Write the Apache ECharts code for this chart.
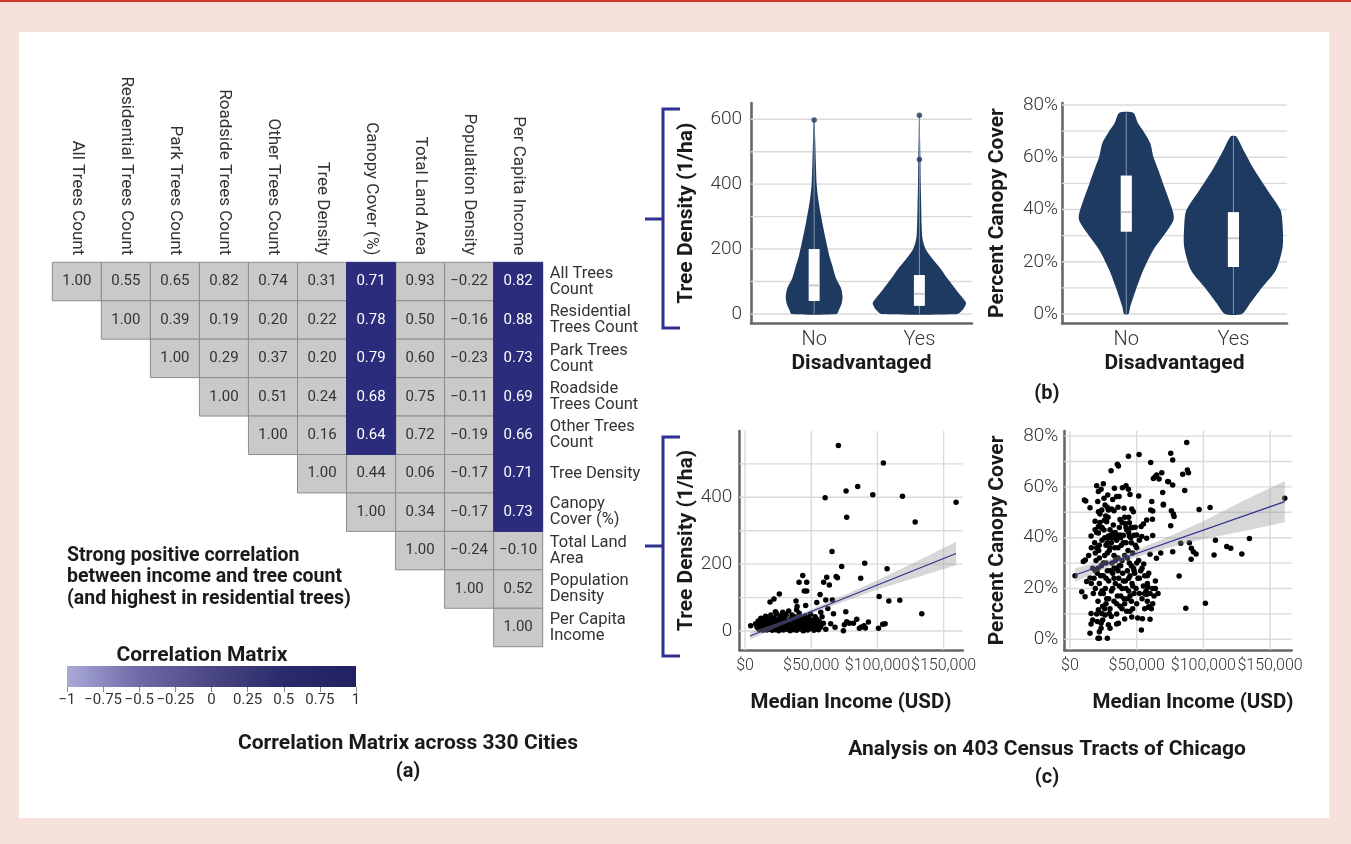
<!DOCTYPE html>
<html>
<head>
<meta charset="utf-8">
<title>Urban trees, canopy and income</title>
<script src="https://cdn.jsdelivr.net/npm/echarts@6/dist/echarts.min.js"></script>
<style>
  html, body { margin: 0; padding: 0; width: 1351px; height: 844px; overflow: hidden; background: #f6e2da; }
  #topline { position: absolute; left: 0; top: 0; width: 1351px; height: 2px; background: #d0342c; }
  #panel { position: absolute; left: 19px; top: 32px; width: 1310px; height: 786px; background: #ffffff; }
  #chart { position: absolute; left: 0; top: 0; width: 1351px; height: 844px; }
</style>
</head>
<body>
<div id="topline"></div>
<div id="panel"></div>
<div id="chart"></div>
<script>
// ---------------- (a) correlation matrix across cities ----------------
const corrColumns = ['All Trees Count', 'Residential Trees Count', 'Park Trees Count', 'Roadside Trees Count',
  'Other Trees Count', 'Tree Density', 'Canopy Cover (%)', 'Total Land Area', 'Population Density', 'Per Capita Income'];
const corrRowLabels = ['All Trees\nCount', 'Residential\nTrees Count', 'Park Trees\nCount', 'Roadside\nTrees Count',
  'Other Trees\nCount', 'Tree Density', 'Canopy\nCover (%)', 'Total Land\nArea', 'Population\nDensity', 'Per Capita\nIncome'];
// upper triangle, each row starts on the diagonal
const corrUpper = [
  [1.00, 0.55, 0.65, 0.82, 0.74, 0.31, 0.71, 0.93, -0.22, 0.82],
  [1.00, 0.39, 0.19, 0.20, 0.22, 0.78, 0.50, -0.16, 0.88],
  [1.00, 0.29, 0.37, 0.20, 0.79, 0.60, -0.23, 0.73],
  [1.00, 0.51, 0.24, 0.68, 0.75, -0.11, 0.69],
  [1.00, 0.16, 0.64, 0.72, -0.19, 0.66],
  [1.00, 0.44, 0.06, -0.17, 0.71],
  [1.00, 0.34, -0.17, 0.73],
  [1.00, -0.24, -0.10],
  [1.00, 0.52],
  [1.00]
];
// [row, column] of the cells filled in the strong colour
const highlightedCells = [[0, 6], [1, 6], [2, 6], [3, 6], [4, 6],
  [0, 9], [1, 9], [2, 9], [3, 9], [4, 9], [5, 9], [6, 9]];
const colorbarStops = [[0, '#a9a9d9'], [0.25, '#6e6aa6'], [0.5, '#4a4882'], [0.75, '#2a2a6c'], [1, '#222262']];

// ---------------- (b) disadvantaged vs not ----------------
const disadvantagedCats = ['No', 'Yes'];
// violin outlines: [value, half width in category units]
const densityNoProfile = [[0, 0.214], [12, 0.235], [33, 0.262], [53, 0.27], [80, 0.255], [112, 0.206], [150, 0.172],
  [177, 0.146], [230, 0.11], [279, 0.079], [330, 0.05], [361, 0.036], [400, 0.024], [472, 0.016], [540, 0.01], [598, 0.004]];
const densityYesProfile = [[0, 0.36], [12, 0.41], [33, 0.444], [50, 0.41], [74, 0.35], [100, 0.29], [115, 0.254], [140, 0.2],
  [156, 0.159], [180, 0.1], [197, 0.064], [215, 0.042], [238, 0.027], [280, 0.021], [341, 0.017], [400, 0.013], [485, 0.01],
  [550, 0.006], [612, 0.003]];
const canopyNoProfile = [[0, 0.02], [2.8, 0.037], [9.2, 0.089], [16.8, 0.159], [24.5, 0.252], [30.9, 0.364], [36.6, 0.444],
  [43.6, 0.40], [50, 0.343], [55, 0.30], [60.3, 0.252], [65.4, 0.224], [70, 0.16], [73, 0.109], [77, 0.065]];
const canopyYesProfile = [[0, 0.078], [4.1, 0.156], [9.2, 0.249], [16.8, 0.397], [25.8, 0.46], [34.7, 0.458], [39.8, 0.439],
  [47.4, 0.318], [55.1, 0.196], [62.8, 0.093], [68, 0.025]];
// [category position, q1, median, q3, min, max]
const densityBoxes = [[1, 40, 88, 200, 0, 598], [2, 25, 62, 120, 0, 612]];
const canopyBoxes = [[1, 31.5, 39, 53, 0, 77], [2, 18, 29, 39, 0, 68]];
const densityOutliers = [[1, 598], [2, 612], [2, 476]];
const densityTicks = [0, 200, 400, 600];
const densityGridValues = [0, 100, 200, 300, 400, 500, 600];
const canopyTicks = [0, 20, 40, 60, 80];
const canopyGridValues = [0, 10, 20, 30, 40, 50, 60, 70, 80];

// ---------------- (c) census tracts of Chicago ----------------
const incomeTicksK = [0, 50, 100, 150];
const scatterDensityTicks = [0, 200, 400];
const scatterDensityGridValues = [0, 100, 200, 300, 400, 500];
// [median income in thousand USD, tree density per ha]
const densityPoints = [
  [70.5, 555], [104.5, 503], [76.3, 419], [85.1, 432], [96.5, 408], [60.5, 399], [118.9, 403], [159.4, 385], [76.8, 340],
  [128.5, 326], [65.7, 238], [73.0, 193], [90.4, 203], [107.3, 186], [87.4, 158], [43.6, 166], [61.7, 161], [68.8, 163],
  [69.8, 159], [59.4, 146], [63.7, 138], [40.8, 146], [46.6, 146], [44.8, 120], [46.6, 120], [25.9, 111], [21.9, 96],
  [18.9, 87], [38.5, 90], [45.8, 76], [54.2, 85], [56.7, 109], [61.0, 93], [66.0, 93], [101.3, 103], [108.6, 90],
  [116.9, 92], [133.5, 52], [76.1, 58], [39.3, 73],
  [74.3, 1], [75, 19], [76.8, 28], [78.8, 23], [81.9, 23], [84.4, 35], [86.4, 8], [87.9, 12], [89.9, 16], [90.9, 9],
  [93.2, 27], [100.8, 8], [104, 20], [105.8, 22], [68, 11], [64.7, 22], [59.2, 23], [58.2, 43], [66.8, 52], [62.5, 67],
  [57.2, 56], [52.9, 43], [51.4, 28], [49.1, 8], [54.2, 5], [61, 5],
  [4.3, 16], [8, 22], [9, 12], [10, 30], [10.5, 5], [11, 18], [12, 38], [12.5, 10], [13, 26], [13.5, 2], [14, 15],
  [14.5, 32], [15, 8], [15.5, 44], [16, 20], [16.5, 3], [17, 28], [17.5, 12], [18, 36], [18.5, 6], [19, 22], [19.5, 48],
  [20, 14], [20.5, 2], [21, 30], [21.5, 9], [22, 40], [22.5, 18], [23, 4], [23.5, 26], [24, 52], [24.5, 12], [25, 34],
  [25.5, 1], [26, 20], [26.5, 44], [27, 8], [27.5, 28], [28, 15], [28.5, 56], [29, 3], [29.5, 38], [30, 22], [30.5, 10],
  [31, 47], [31.5, 30], [32, 5], [32.5, 17], [33, 60], [33.5, 25], [34, 1], [34.5, 36], [35, 12], [35.5, 48], [36, 20],
  [36.5, 4], [37, 31], [37.5, 14], [38, 42], [38.5, 24], [39, 2], [39.5, 9], [40, 35], [40.5, 18], [41, 53], [41.5, 27],
  [42, 6], [42.5, 40], [43, 13], [43.5, 22], [44, 1], [44.5, 33], [45, 16], [45.5, 45], [46, 7], [46.5, 28], [47, 19],
  [47.5, 3], [48, 38], [48.5, 12], [49, 24], [49.5, 50], [50, 9], [50.5, 32], [51, 17], [52, 2], [52.5, 26], [53, 12],
  [54, 36], [55, 18], [55.5, 4], [56, 29], [57, 11], [58, 20], [30, 32], [26, 14], [22, 26], [18, 9], [34, 20], [38, 7],
  [42, 30], [46, 22], [36, 40], [28, 42], [24, 6], [20, 38], [32, 12], [40, 26], [44, 10], [48, 30], [36, 8], [30, 50],
  [27, 35], [23, 58], [39, 63], [42, 17], [45, 4], [33, 16], [25, 23], [29, 11]
];
const densityFit = [[3.8, -15], [159.4, 232]];
// [income K, lower, upper] of the confidence band
const densityBand = [[3.8, -26, -4], [25, 12.6, 24.6], [45, 45, 56], [70, 81, 99], [100, 124, 152], [130, 161, 209], [159.4, 197, 267]];

// [median income in thousand USD, canopy cover %]
const canopyPoints = [
  [87.5, 77.5], [43.8, 72.1], [51.8, 72.7], [75.5, 73.2], [77, 70.6], [60.5, 69.6], [35.5, 68.9], [36.3, 68.2], [30.8, 66.4],
  [68.8, 65.6], [65, 64.7], [62.5, 63.3], [66.8, 63.1], [88, 66.6], [88.8, 65.6], [84.5, 65], [73.8, 62], [77, 60.7],
  [86, 58.6], [69.5, 57.8], [51.5, 56.4], [61.3, 54.2], [70, 53.2], [76, 50.6], [77.5, 49.3], [78, 48.3], [96.8, 51.1],
  [105, 51.9], [75.5, 44.7], [83, 37.8], [89.5, 38], [91, 35.8], [92.5, 34.5], [94.5, 33.6], [109, 39], [117.5, 36.5],
  [120.5, 35.8], [108, 33.2], [128.8, 33.6], [134.5, 39.7], [90.8, 31.5], [161, 55.5], [81.8, 24.9], [86.8, 12.2],
  [101.5, 14.2], [77, 34.5], [68, 34], [55, 45.4], [57.5, 47], [61.8, 47.3], [62, 40.9], [55.3, 29.6], [64.8, 31.9],
  [63.8, 64], [73.3, 62.1], [60.5, 50.9], [62, 50.5], [70, 52.9], [60, 33.5], [58, 25], [56, 18], [62, 14], [64, 20],
  [66, 18], [58.5, 20.5], [59, 12.8], [57.3, 17.6], [60, 7.9], [53.5, 3.7], [50.8, 8.4], [54.3, 8.1], [46.3, 8.8], [58.8, 12.6],
  [20, 60.4], [25, 61.2], [21.3, 58.2], [23.3, 59.1], [28.3, 56.8], [33.3, 59.5], [39.3, 59.7], [42, 60.4], [43.8, 59.1],
  [35, 56.2], [36.8, 56.2], [45, 57], [10.8, 54.8], [11.8, 54.4], [15, 51.8], [20.8, 54.2], [25.5, 55.5], [26.3, 52.9],
  [23.8, 50.9], [21.3, 50.2], [22.5, 49.3], [28.8, 50.9], [31.3, 51.3], [33, 50.6], [26.8, 48.5], [25.8, 46.9], [27.5, 46.3],
  [40.5, 51.6], [46.3, 51.3], [47.5, 50.2], [37.5, 47.2], [41.3, 45.6], [44.5, 45.9], [45.8, 43.9], [48.8, 44.1], [53.3, 44.4],
  [18.8, 46.5], [21.3, 44.4], [23.8, 43.7], [18.8, 43.1], [21.3, 41.8], [30, 43.1], [32.5, 41.8], [28.8, 40.7], [35, 40.7],
  [37.5, 41.1], [42.5, 43.1], [44.5, 40.7], [50, 41.1], [53.8, 40.5], [57.5, 39.8], [15.8, 40.7],
  [3.75, 25], [10, 30.6], [11.5, 31.2], [8.8, 18.7], [11.3, 16.8], [15, 24.1], [12.5, 22.8], [15.8, 10.2], [17, 7.6],
  [15.8, 6], [15, 2.4], [21, 0.4], [22, 0.4], [28, 0.4], [22, 3], [23.3, 4.4], [30, 4.4], [35, 6], [36.3, 6.3], [21.3, 11.6],
  [23.8, 10.2], [26.3, 9.6], [29.5, 10.2], [23.3, 6.3], [24.5, 7.6], [20.5, 7], [28.8, 5.7],
  [14, 33], [16, 36], [17, 28], [18, 24], [18.5, 38], [19, 20], [19.5, 31], [20, 42], [20.5, 26], [21, 15], [21.5, 35],
  [22, 22], [22.5, 46], [23, 18], [23.5, 29], [24, 39], [24.5, 13], [25, 25], [25.5, 43], [26, 33], [26.5, 20], [27, 37],
  [27.5, 16], [28, 27], [28.5, 48], [29, 23], [29.5, 35], [30, 12], [30.5, 41], [31, 19], [31.5, 30], [32, 26], [32.5, 45],
  [33, 15], [33.5, 36], [34, 22], [34.5, 28], [35, 39], [35.5, 17], [36, 32], [36.5, 24], [37, 44], [37.5, 13], [38, 29],
  [38.5, 37], [39, 20], [39.5, 26], [40, 41], [40.5, 16], [41, 33], [41.5, 23], [42, 38], [42.5, 11], [43, 27], [43.5, 35],
  [44, 19], [44.5, 30], [45, 25], [45.5, 40], [46, 15], [46.5, 22], [47, 34], [47.5, 28], [48, 18], [48.5, 26], [49, 37],
  [49.5, 20], [50, 14], [51, 24], [51.5, 31], [52, 18], [53, 27], [54, 16], [55, 21], [56, 12], [57, 19], [58, 15], [59, 26],
  [60, 18], [61, 12], [62, 20], [63, 17], [64, 23],
  [16, 22], [17.5, 18], [19, 34], [20, 10], [21, 28], [22, 37], [23, 25], [24, 19], [25, 30], [26, 12], [27, 24], [28, 34],
  [29, 16], [30, 27], [31, 38], [32, 20], [33, 24], [34, 31], [35, 14], [36, 27], [37, 21], [38, 17], [39, 31], [40, 23],
  [41, 14], [42, 20], [43, 32], [44, 24], [45, 17], [46, 29], [47, 21], [48, 27], [50, 30], [52, 24], [54, 28], [56, 25],
  [58, 22], [24, 44], [26, 40], [28, 38], [30, 36], [32, 40], [34, 42], [36, 36], [38, 40], [40, 38], [42, 44], [44, 42],
  [46, 38], [48, 41], [50, 36], [52, 39], [20, 36], [22, 32], [19, 27], [27, 30], [33, 33], [37, 29], [43, 16], [47, 12],
  [31, 9], [35, 10], [39, 12], [41, 8], [27, 14], [25, 18], [45, 11], [33, 28], [29, 40], [39, 46], [41, 48], [36, 52],
  [32, 55], [28, 52], [44, 48], [47, 44]
];
const canopyFit = [[3.75, 25.3], [161, 54.2]];
const canopyBand = [[3.75, 22.6, 28.0], [25, 27.6, 30.8], [45, 31.6, 34.2], [70, 35.5, 39.5], [100, 39.5, 46.5], [130, 42.5, 54.5], [161, 46.1, 62.3]];

// ---------------- styling ----------------
const FONT = 'Roboto';
const INK = '#1a1a1a';
const TICK_INK = '#333333';
const GRID_LINE = '#dadada';
const AXIS_LINE = '#676767';
const CELL_BLUE = '#2b2c7c';
const CELL_GREY = '#c9c9cb';
const VIOLIN = '#1e3a60';
const BRACKET = '#2e3192';
const FIT = '#2e3192';
const DOT = '#000000';

function signed(v) {
  const r = Math.round(v * 100) / 100;
  return (r < 0 ? '\u2212' : '') + String(Math.abs(r));
}
function fixed2(v) {
  return (v < 0 ? '\u2212' : '') + Math.abs(v).toFixed(2);
}

// heatmap cells from the upper triangle
const corrCells = [];
corrUpper.forEach((row, r) => {
  row.forEach((v, k) => {
    const c = r + k;
    const hl = highlightedCells.some(h => h[0] === r && h[1] === c) ? 1 : 0;
    corrCells.push([c, r, v, hl]);
  });
});
corrCells.sort((a, b) => a[3] - b[3]);

function gridLineSeries(gi, hValues, vValues) {
  const data = hValues.map(v => [0, v, 0]).concat(vValues.map(v => [v, 0, 1]));
  return {
    type: 'custom', xAxisIndex: gi, yAxisIndex: gi, z: 1, silent: true, clip: false,
    data: data,
    renderItem(params, api) {
      const cs = params.coordSys;
      if (api.value(2) === 0) {
        const y = api.coord([0, api.value(1)])[1];
        return { type: 'line', shape: { x1: cs.x, y1: y, x2: cs.x + cs.width, y2: y }, style: { stroke: GRID_LINE, lineWidth: 1.4 } };
      }
      const x = api.coord([api.value(0), 0])[0];
      return { type: 'line', shape: { x1: x, y1: cs.y, x2: x, y2: cs.y + cs.height }, style: { stroke: GRID_LINE, lineWidth: 1.4 } };
    }
  };
}

function violinSeries(gi, profiles) {
  return {
    type: 'custom', xAxisIndex: gi, yAxisIndex: gi, z: 3, silent: true,
    data: profiles.map((p, i) => [i + 1, 0]),
    renderItem(params, api) {
      const prof = profiles[params.dataIndex];
      const x0 = api.value(0);
      const right = prof.map(p => api.coord([x0 + p[1], p[0]]));
      const left = prof.slice().reverse().map(p => api.coord([x0 - p[1], p[0]]));
      return { type: 'polygon', shape: { points: right.concat(left), smooth: 0.25 }, style: { fill: VIOLIN } };
    }
  };
}

function boxSeries(gi, boxes) {
  return {
    type: 'custom', xAxisIndex: gi, yAxisIndex: gi, z: 4, silent: true,
    data: boxes,
    renderItem(params, api) {
      const x = api.value(0), q1 = api.value(1), med = api.value(2), q3 = api.value(3), lo = api.value(4), hi = api.value(5);
      const halfW = 0.052;
      const pLo = api.coord([x, lo]), pHi = api.coord([x, hi]);
      const a = api.coord([x - halfW, q3]), b = api.coord([x + halfW, q1]);
      const m1 = api.coord([x - halfW, med]), m2 = api.coord([x + halfW, med]);
      return {
        type: 'group', children: [
          { type: 'line', shape: { x1: pLo[0], y1: pLo[1], x2: pHi[0], y2: pHi[1] }, style: { stroke: '#8596ae', lineWidth: 1 } },
          { type: 'rect', shape: { x: a[0], y: a[1], width: b[0] - a[0], height: b[1] - a[1] }, style: { fill: '#ffffff' } },
          { type: 'line', shape: { x1: m1[0], y1: m1[1], x2: m2[0], y2: m2[1] }, style: { stroke: '#c9c9c9', lineWidth: 2 } }
        ]
      };
    }
  };
}

function bandSeries(gi, band) {
  return {
    type: 'custom', xAxisIndex: gi, yAxisIndex: gi, z: 5, silent: true,
    data: [[band[0][0], band[0][1]]],
    renderItem(params, api) {
      const upper = band.map(b => api.coord([b[0], b[2]]));
      const lower = band.slice().reverse().map(b => api.coord([b[0], b[1]]));
      return { type: 'polygon', shape: { points: upper.concat(lower) }, style: { fill: 'rgba(150,150,150,0.38)' } };
    }
  };
}

const tickLabel = { fontFamily: FONT, fontSize: 19, fontWeight: 300, color: TICK_INK, hideOverlap: false };
const axisName = { fontFamily: FONT, fontSize: 21, fontWeight: 'bold', color: INK };
const plotAxisLine = { show: true, onZero: false, lineStyle: { color: AXIS_LINE, width: 2.6 } };
const moneyFmt = v => '$' + Math.round(v * 1000).toLocaleString('en-US');
const centered = { align: 'center', textAlign: 'center', verticalAlign: 'middle', textVerticalAlign: 'middle' };

const chart = echarts.init(document.getElementById('chart'), null, { renderer: 'canvas' });

const option = {
  animation: false,
  backgroundColor: 'transparent',
  textStyle: { fontFamily: FONT },
  grid: [
    { left: 52.3, top: 262.3, width: 490.4, height: 384.4, outerBoundsMode: 'none' },
    { left: 67, top: 666, width: 289, height: 21, outerBoundsMode: 'none' },
    { left: 751, top: 103, width: 221, height: 220.3, outerBoundsMode: 'none' },
    { left: 1062, top: 103, width: 225, height: 220.3, outerBoundsMode: 'none' },
    { left: 739.3, top: 431, width: 223.4, height: 219, outerBoundsMode: 'none' },
    { left: 1064.3, top: 431, width: 227.4, height: 219, outerBoundsMode: 'none' }
  ],
  xAxis: [
    {
      gridIndex: 0, type: 'category', data: corrColumns, position: 'top',
      axisLine: { show: false }, axisTick: { show: false }, splitLine: { show: false },
      axisLabel: { interval: 0, rotate: 90, margin: 7, fontSize: 17, color: TICK_INK, hideOverlap: false }
    },
    {
      gridIndex: 1, type: 'value', min: -1, max: 1, interval: 0.25,
      axisLine: { show: false }, splitLine: { show: false },
      axisTick: { show: true, length: 5, lineStyle: { color: '#8a8a8a' } },
      axisLabel: { formatter: signed, fontSize: 15, color: TICK_INK, margin: 6, hideOverlap: false }
    },
    {
      gridIndex: 2, type: 'value', min: 0.4, max: 2.5,
      axisLine: plotAxisLine, axisTick: { show: false }, splitLine: { show: false },
      axisLabel: Object.assign({}, tickLabel, { customValues: disadvantagedCats.map((c, i) => i + 1), formatter: v => disadvantagedCats[Math.round(v) - 1], fontSize: 20, margin: 7 }),
      name: 'Disadvantaged', nameLocation: 'middle', nameGap: 30, nameTextStyle: axisName
    },
    {
      gridIndex: 3, type: 'value', min: 0.4, max: 2.5,
      axisLine: plotAxisLine, axisTick: { show: false }, splitLine: { show: false },
      axisLabel: Object.assign({}, tickLabel, { customValues: disadvantagedCats.map((c, i) => i + 1), formatter: v => disadvantagedCats[Math.round(v) - 1], fontSize: 20, margin: 7 }),
      name: 'Disadvantaged', nameLocation: 'middle', nameGap: 30, nameTextStyle: axisName
    },
    {
      gridIndex: 4, type: 'value', min: -4.31, max: 164.4,
      axisLine: plotAxisLine, axisTick: { show: false }, splitLine: { show: false },
      axisLabel: Object.assign({}, tickLabel, { customValues: incomeTicksK, formatter: moneyFmt, fontSize: 16, margin: 8 }),
      name: 'Median Income (USD)', nameLocation: 'middle', nameGap: 42, nameTextStyle: Object.assign({}, axisName, { fontSize: 20.5 })
    },
    {
      gridIndex: 5, type: 'value', min: -4.27, max: 166.2,
      axisLine: plotAxisLine, axisTick: { show: false }, splitLine: { show: false },
      axisLabel: Object.assign({}, tickLabel, { customValues: incomeTicksK, formatter: moneyFmt, fontSize: 16, margin: 8 }),
      name: 'Median Income (USD)', nameLocation: 'middle', nameGap: 42, nameTextStyle: Object.assign({}, axisName, { fontSize: 20.5, padding: [0, 0, 0, 30] })
    }
  ],
  yAxis: [
    {
      gridIndex: 0, type: 'category', data: corrRowLabels, inverse: true, position: 'right',
      axisLine: { show: false }, axisTick: { show: false }, splitLine: { show: false },
      axisLabel: { interval: 0, margin: 7, fontSize: 16.5, lineHeight: 16, color: TICK_INK, align: 'left', hideOverlap: false }
    },
    { gridIndex: 1, type: 'value', min: 0, max: 1, show: false },
    {
      gridIndex: 2, type: 'value', min: -28.7, max: 650,
      axisLine: plotAxisLine, axisTick: { show: false }, splitLine: { show: false },
      axisLabel: Object.assign({}, tickLabel, { customValues: densityTicks, margin: 9 }),
      name: 'Tree Density (1/ha)', nameLocation: 'middle', nameRotate: 90, nameGap: 54, nameTextStyle: axisName
    },
    {
      gridIndex: 3, type: 'value', min: -3.56, max: 80.77,
      axisLine: plotAxisLine, axisTick: { show: false }, splitLine: { show: false },
      axisLabel: Object.assign({}, tickLabel, { customValues: canopyTicks, formatter: v => v + '%', margin: 4 }),
      name: 'Percent Canopy Cover', nameLocation: 'middle', nameRotate: 90, nameGap: 54, nameTextStyle: axisName
    },
    {
      gridIndex: 4, type: 'value', min: -56.8, max: 598.4,
      axisLine: plotAxisLine, axisTick: { show: false }, splitLine: { show: false },
      axisLabel: Object.assign({}, tickLabel, { customValues: scatterDensityTicks, margin: 7 }),
      name: 'Tree Density (1/ha)', nameLocation: 'middle', nameRotate: 90, nameGap: 42, nameTextStyle: axisName
    },
    {
      gridIndex: 5, type: 'value', min: -4.21, max: 82,
      axisLine: plotAxisLine, axisTick: { show: false }, splitLine: { show: false },
      axisLabel: Object.assign({}, tickLabel, { customValues: canopyTicks, formatter: v => v + '%', margin: 6 }),
      name: 'Percent Canopy Cover', nameLocation: 'middle', nameRotate: 90, nameGap: 56, nameTextStyle: axisName
    }
  ],
  series: [
    // correlation cells
    {
      type: 'custom', xAxisIndex: 0, yAxisIndex: 0, z: 2, silent: true,
      data: corrCells,
      renderItem(params, api) {
        const col = api.value(0), row = api.value(1), v = api.value(2), hl = api.value(3);
        const c = api.coord([col, row]);
        const s = api.size([1, 1]);
        return {
          type: 'group', children: [
            { type: 'rect', shape: { x: c[0] - s[0] / 2, y: c[1] - s[1] / 2, width: s[0], height: s[1] },
              style: { fill: hl ? CELL_BLUE : CELL_GREY, stroke: hl ? CELL_BLUE : '#8d8d8d', lineWidth: 1 } },
            { type: 'text', style: { x: c[0], y: c[1], text: fixed2(v), align: 'center', verticalAlign: 'middle',
              fill: hl ? '#ffffff' : '#333333', font: '15px ' + FONT } }
          ]
        };
      }
    },
    // colour bar
    {
      type: 'custom', xAxisIndex: 1, yAxisIndex: 1, z: 2, silent: true,
      data: [[-1, 0, 1, 1]],
      renderItem(params, api) {
        const p0 = api.coord([api.value(0), api.value(3)]);
        const p1 = api.coord([api.value(2), api.value(1)]);
        return {
          type: 'rect', shape: { x: p0[0], y: p0[1], width: p1[0] - p0[0], height: p1[1] - p0[1] },
          style: { fill: new echarts.graphic.LinearGradient(0, 0, 1, 0, colorbarStops.map(s => ({ offset: s[0], color: s[1] }))) }
        };
      }
    },
    // violins: tree density
    gridLineSeries(2, densityGridValues, []),
    violinSeries(2, [densityNoProfile, densityYesProfile]),
    boxSeries(2, densityBoxes),
    { type: 'scatter', xAxisIndex: 2, yAxisIndex: 2, z: 5, silent: true, symbolSize: 5.5, itemStyle: { color: VIOLIN }, data: densityOutliers },
    // violins: canopy
    gridLineSeries(3, canopyGridValues, []),
    violinSeries(3, [canopyNoProfile, canopyYesProfile]),
    boxSeries(3, canopyBoxes),
    // scatter: tree density vs income
    gridLineSeries(4, scatterDensityGridValues, incomeTicksK),
    { type: 'scatter', xAxisIndex: 4, yAxisIndex: 4, z: 4, silent: true, symbolSize: 5.5, itemStyle: { color: DOT, opacity: 1 }, data: densityPoints },
    bandSeries(4, densityBand),
    { type: 'line', xAxisIndex: 4, yAxisIndex: 4, z: 6, silent: true, symbol: 'none', lineStyle: { color: FIT, width: 1.2 }, data: densityFit },
    // scatter: canopy vs income
    gridLineSeries(5, canopyGridValues, incomeTicksK),
    { type: 'scatter', xAxisIndex: 5, yAxisIndex: 5, z: 4, silent: true, symbolSize: 5.5, itemStyle: { color: DOT, opacity: 1 }, data: canopyPoints },
    bandSeries(5, canopyBand),
    { type: 'line', xAxisIndex: 5, yAxisIndex: 5, z: 6, silent: true, symbol: 'none', lineStyle: { color: FIT, width: 1.2 }, data: canopyFit }
  ],
  graphic: {
    elements: [
      { type: 'polyline', shape: { points: [[680, 109], [663, 109], [663, 328], [680, 328]] }, style: { stroke: BRACKET, lineWidth: 3, fill: null } },
      { type: 'line', shape: { x1: 645, y1: 219, x2: 663, y2: 219 }, style: { stroke: BRACKET, lineWidth: 3 } },
      { type: 'polyline', shape: { points: [[680, 437], [663, 437], [663, 656], [680, 656]] }, style: { stroke: BRACKET, lineWidth: 3, fill: null } },
      { type: 'line', shape: { x1: 645, y1: 546, x2: 663, y2: 546 }, style: { stroke: BRACKET, lineWidth: 3 } },
      { type: 'text', x: 67, y: 545, style: { text: 'Strong positive correlation\nbetween income and tree count\n(and highest in residential trees)',
        font: 'bold 19.5px ' + FONT, fill: INK, lineHeight: 21.5, align: 'left', textAlign: 'left', verticalAlign: 'top', textVerticalAlign: 'top' } },
      { type: 'text', x: 202, y: 656, style: Object.assign({ text: 'Correlation Matrix', font: 'bold 21px ' + FONT, fill: INK }, centered) },
      { type: 'text', x: 408, y: 744, style: Object.assign({ text: 'Correlation Matrix across 330 Cities', font: 'bold 21px ' + FONT, fill: INK }, centered) },
      { type: 'text', x: 408, y: 772, style: Object.assign({ text: '(a)', font: 'bold 20px ' + FONT, fill: INK }, centered) },
      { type: 'text', x: 1047, y: 394, style: Object.assign({ text: '(b)', font: 'bold 20px ' + FONT, fill: INK }, centered) },
      { type: 'text', x: 1047, y: 750, style: Object.assign({ text: 'Analysis on 403 Census Tracts of Chicago', font: 'bold 21px ' + FONT, fill: INK }, centered) },
      { type: 'text', x: 1047, y: 778, style: Object.assign({ text: '(c)', font: 'bold 20px ' + FONT, fill: INK }, centered) }
    ]
  }
};

chart.setOption(option);
</script>
</body>
</html>
